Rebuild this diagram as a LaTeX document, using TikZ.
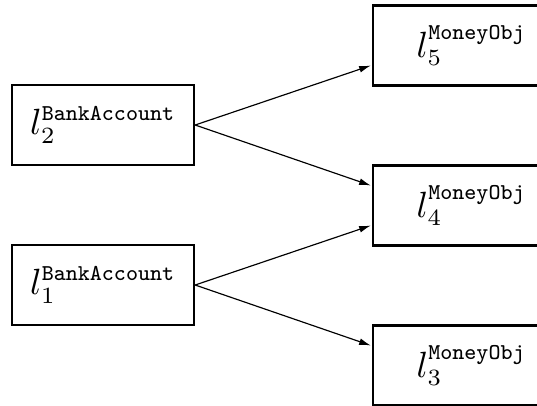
\documentclass[tikz,border=0pt]{standalone}
\usetikzlibrary{arrows.meta, positioning}

\newcommand\tyname[1]{\mbox{\fontsize{6.8}{8}\selectfont\ttfamily #1}}

\begin{document}
\begin{tikzpicture} [x = 0.3pt, y = -0.3pt, node distance = 48pt, on grid,
    loc/.style = {draw, line width = 0.7pt, minimum height = 24pt, inner sep = 0pt,
                  font = \fontsize{10.5}{12}\selectfont},
    ptr/.style = {-{Latex[length = 3.5pt, width = 2pt]}, line width = 0.35pt}]
    \clip (0,0) rectangle (537,405);

    \node (l2) [loc, minimum width = 54.6pt] at (103,125) {$l_2^{\tyname{BankAccount}}$};
    \node (l1) [loc, minimum width = 54.6pt, below = of l2] {$l_1^{\tyname{BankAccount}}$};

    \node (l5) [loc, minimum width = 59.1pt] at (471.5,45.5) {$l_5^{\tyname{MoneyObj}}$};
    \node (l4) [loc, minimum width = 59.1pt, below = of l5] {$l_4^{\tyname{MoneyObj}}$};
    \node (l3) [loc, minimum width = 59.1pt, below = of l4] {$l_3^{\tyname{MoneyObj}}$};

    \path[ptr] (l2.east) edge ([xshift = -0.3pt, yshift = -6pt] l5.west);
    \path[ptr] (l2.east) edge ([xshift = -0.3pt, yshift = 6pt] l4.west);
    \path[ptr] (l1.east) edge ([xshift = -0.3pt, yshift = -6pt] l4.west);
    \path[ptr] (l1.east) edge ([xshift = -0.3pt, yshift = 6pt] l3.west);
\end{tikzpicture}
\end{document}
